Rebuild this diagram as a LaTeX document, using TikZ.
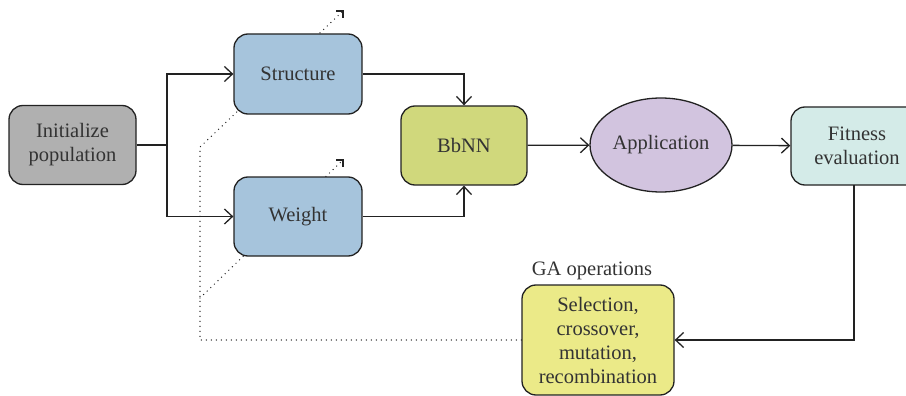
\documentclass[tikz,border=0pt]{standalone}
\usepackage{fontspec}
\setmainfont{Liberation Serif}
\usetikzlibrary{arrows.meta,shapes.geometric,backgrounds}

\definecolor{initfill}{HTML}{B0B0B0}
\definecolor{bluefill}{HTML}{A6C4DC}
\definecolor{nnfill}{HTML}{D0D87C}
\definecolor{appfill}{HTML}{D2C4DF}
\definecolor{fitfill}{HTML}{D4EBE8}
\definecolor{gafill}{HTML}{EBEA88}
\definecolor{ink}{HTML}{222222}
\definecolor{txt}{HTML}{333333}

\begin{document}
\begin{tikzpicture}[x=1pt,y=-1pt,
  lbl/.style={text=txt, font=\fontsize{20.5}{24}\selectfont, align=center, inner sep=0pt},
  box/.style={lbl, draw=ink, line width=1.3pt, rounded corners=14pt},
  link/.style={draw=ink, line width=1.3pt},
  arrowlink/.style={link, -{Straight Barb[length=8pt,width=15pt,line width=1.3pt]}},
  hint/.style={draw=ink, line width=1.4pt, line cap=round, dash pattern=on 0pt off 5pt},
  hinttip/.style={draw=ink, line width=1.4pt},
]
\useasboundingbox (0,0) rectangle (906,396);
\clip (0,0) rectangle (906,396);

% process blocks
\node[box, fill=initfill, minimum width=127pt, minimum height=79pt] (init) at (72.5,145) {Initialize\\population};
\node[box, fill=bluefill, minimum width=128pt, minimum height=80pt] (struct) at (298,74) {Structure};
\node[box, fill=bluefill, minimum width=128pt, minimum height=79pt] (weight) at (298,216.5) {Weight};
\node[box, fill=nnfill, minimum width=126pt, minimum height=79pt] (bbnn) at (464,145.5) {BbNN};
\node[lbl, ellipse, draw=ink, line width=1.3pt, fill=appfill, minimum width=142pt, minimum height=94pt] (app) at (661,145) {Application};
\node[box, fill=fitfill, minimum width=132pt, minimum height=78pt] (fit) at (857,146) {Fitness\\evaluation};
\node[box, fill=gafill, minimum width=152pt, minimum height=110pt] (ga) at (598,340) {Selection,\\crossover,\\mutation,\\recombination};
\node[lbl, anchor=south] (galabel) at (592,280) {GA operations};

% main flow
\coordinate (split) at (167,145);
\draw[link] (init.east) -- (split);
\draw[arrowlink] (split) |- (struct.west);
\draw[arrowlink] (split) |- (weight.west);
\draw[arrowlink] (struct.east) -| (bbnn.north);
\draw[arrowlink] (weight.east) -| (bbnn.south);
\draw[arrowlink] (bbnn) -- (app);
\draw[arrowlink] (app) -- (fit);
\coordinate (fitdown) at (854,185);
\draw[arrowlink] (fitdown) |- (ga.east);

% feedback from the GA operations (dotted, passing behind the blocks)
\coordinate (dcorner) at (200,340);
\coordinate (dtop) at (200,147);
\coordinate (dtipS) at (343,11);
\coordinate (dbranch) at (200,298);
\coordinate (dtipW) at (343,160);
\begin{pgfonlayer}{background}
\draw[hint] (ga.west) -- (dcorner) -- (dtop) -- (dtipS);
\draw[hint] (dbranch) -- (dtipW);
\end{pgfonlayer}
% right-angled heads at the ends of the dotted lines
\draw[hinttip] ([xshift=-7pt]dtipS) -- (dtipS) -- ([yshift=-7pt]dtipS);
\draw[hinttip] ([xshift=-7pt]dtipW) -- (dtipW) -- ([yshift=-7pt]dtipW);
\end{tikzpicture}
\end{document}
